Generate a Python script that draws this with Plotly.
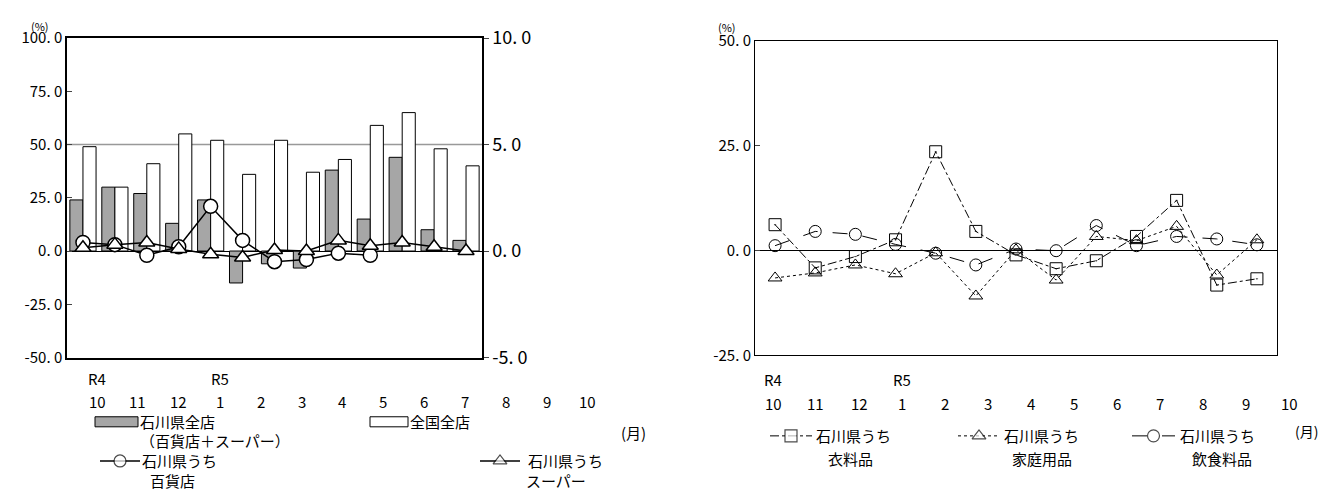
import plotly.graph_objects as go

months = ["10", "11", "12", "1", "2", "3", "4", "5", "6", "7", "8", "9", "10"]
era = ["R4", "", "", "R5", "", "", "", "", "", "", "", "", ""]
cats = [f"c{i}" for i in range(13)]

ishikawa_all = [24, 30, 27, 13, 24, -15, -6, -8, 38, 15, 44, 10, 5]
national_all = [49, 30, 41, 55, 52, 36, 52, 37, 43, 59, 65, 48, 40]
dept_store = [0.4, 0.3, -0.2, 0.2, 2.1, 0.5, -0.5, -0.4, -0.1, -0.2, None, None, None]
supermarket = [0.15, 0.3, 0.4, 0.1, -0.15, -0.3, 0.05, 0.0, 0.5, 0.25, 0.4, 0.2, 0.0]

clothing = [6.2, -4.1, -1.4, 2.6, 23.6, 4.6, -1.0, -4.3, -2.4, 3.4, 12.0, -8.2, -6.7]
household = [-6.5, -5.3, -3.4, -5.5, -0.5, -10.8, 0.2, -7.0, 3.4, 2.4, 5.8, -5.8, 2.6]
food = [1.2, 4.6, 3.9, 1.5, -0.6, -3.4, 0.4, 0.0, 6.0, 1.2, 3.4, 2.8, 1.4]

W, H = 1329, 493
FONT = "Noto Sans CJK JP"
fig = go.Figure()

def fx(x):
    return x - 8

def fy(y):
    return (y - 22) / 0.943

def px(x):
    return fx(x) / W

def py(y):
    return 1 - fy(y) / H

fig.add_bar(x=cats, y=ishikawa_all, marker=dict(color="#a6a6a6", line=dict(color="black", width=1)), xaxis="x", yaxis="y")
fig.add_bar(x=cats, y=national_all, marker=dict(color="white", line=dict(color="black", width=1)), xaxis="x", yaxis="y")
mk = dict(color="white", size=14, line=dict(color="black", width=1.5))
fig.add_scatter(x=cats, y=dept_store, mode="lines+markers", line=dict(color="black", width=1.5),
                marker=dict(symbol="circle", **mk), xaxis="x", yaxis="y2")
fig.add_scatter(x=cats, y=supermarket, mode="lines+markers", line=dict(color="black", width=1.5),
                marker=dict(symbol="triangle-up", **mk), xaxis="x", yaxis="y2")

mk2 = dict(color="rgba(255,255,255,0)", size=12, line=dict(color="black", width=1))
fig.add_scatter(x=cats, y=clothing, mode="lines+markers", line=dict(color="black", width=1, dash="dashdot"),
                marker=dict(symbol="square-dot", **mk2), xaxis="x2", yaxis="y3")
fig.add_scatter(x=cats, y=household, mode="lines+markers", line=dict(color="black", width=1, dash="dot"),
                marker=dict(symbol="triangle-up", **mk2), xaxis="x2", yaxis="y3")
fig.add_scatter(x=cats, y=food, mode="lines+markers", line=dict(color="black", width=1, dash="longdash"),
                marker=dict(symbol="circle", **mk2), xaxis="x2", yaxis="y3")

def leg(x0, x1, y, sym, dash, w=1.5):
    fig.add_scatter(x=[fx(x0), fx((x0 + x1) / 2), fx(x1)], y=[fy(y)] * 3, mode="lines+markers",
                    line=dict(color="black", width=w, dash=dash),
                    marker=dict(symbol=sym, size=[0, 12, 0], color="white", line=dict(color="black", width=1.2)),
                    xaxis="x3", yaxis="y4")

leg(100, 140, 458, "circle", "solid")
leg(480, 520, 458, "triangle-up", "solid")
leg(770, 812, 433, "square", "dashdot", 1)
leg(958, 1000, 433, "triangle-up", "dot", 1)
leg(1132, 1175, 433, "circle", "longdash", 1)

TF = dict(size=15)
fig.update_layout(
    width=W, height=H, margin=dict(l=0, r=0, t=0, b=0),
    paper_bgcolor="white", plot_bgcolor="rgba(0,0,0,0)", showlegend=False,
    barmode="group", bargap=0.18, bargroupgap=0,
    font=dict(family=FONT, size=15, color="black"),
    xaxis=dict(domain=[px(67), px(482)], showticklabels=False, ticks="", showline=True, linecolor="black", mirror=True,
               linewidth=1.5, range=[-0.5, 12.5]),
    yaxis=dict(domain=[py(355), py(37)], range=[-50, 100], tickvals=[-50, -25, 0, 25, 50, 75, 100],
               ticktext=["-50. 0", "-25. 0", "0. 0", "25. 0", "50. 0", "75. 0", "100. 0"],
               ticks="inside", ticklen=5, showline=True, linecolor="black", linewidth=1.5, mirror=False,
               showgrid=False, zeroline=True, zerolinecolor="black", zerolinewidth=1, tickfont=TF),
    yaxis2=dict(overlaying="y", anchor="x", side="right", range=[-5, 10], tickvals=[-5, 0, 5, 10],
                ticktext=["-5. 0", "0. 0", "5. 0", "10. 0"], ticks="outside", ticklen=5,
                showline=True, linecolor="black", linewidth=1.5, showgrid=False, zeroline=False,
                tickfont=dict(size=18)),
    xaxis2=dict(domain=[px(755), px(1277)], showticklabels=False, ticks="", showline=True, linecolor="black",
                mirror=True, range=[-0.5, 12.5], anchor="y3"),
    yaxis3=dict(domain=[py(353), py(40)], anchor="x2", range=[-25, 50], tickvals=[-25, 0, 25, 50],
                ticktext=["-25. 0", "0. 0", "25. 0", "50. 0"], ticks="inside", ticklen=5,
                showline=True, linecolor="black", mirror=True, showgrid=False,
                zeroline=True, zerolinecolor="black", zerolinewidth=1, tickfont=TF),
    xaxis3=dict(domain=[0, 1], range=[0, W], visible=False, anchor="y4"),
    yaxis4=dict(domain=[0, 1], range=[H, 0], visible=False, anchor="x3"),
)
fig.add_shape(type="line", xref="x", yref="y", x0=-0.5, x1=12.5, y0=50, y1=50, line=dict(color="#999", width=1.5), layer="below")

ann = []
def t(x, y, s, xa="left", size=15):
    ann.append(dict(x=px(x), y=py(y), xref="paper", yref="paper", text=s, showarrow=False,
                    xanchor=xa, yanchor="middle", font=dict(size=size)))

for i, m in enumerate(months):
    xl = 97 + 40.9 * i
    xr = 773 + 43 * i
    t(xl, 399, m, "center")
    t(xr, 401, m, "center")
    if era[i]:
        t(xl, 376, era[i], "center")
        t(xr, 377, era[i], "center")
t(633, 430, "(月)", "center")
t(1306, 428, "(月)", "center", 14)
t(40, 25, "(%)", "center", 11)
t(727, 26, "(%)", "center", 11)

t(138, 419, "石川県全店")
t(138, 438, "（百貨店＋スーパー）")
t(408, 419, "全国全店")
t(140, 458, "石川県うち")
t(148, 477, "百貨店")
t(526, 458, "石川県うち")
t(524, 477, "スーパー")
t(814, 433, "石川県うち")
t(826, 456, "衣料品")
t(1002, 433, "石川県うち")
t(1010, 456, "家庭用品")
t(1178, 433, "石川県うち")
t(1190, 456, "飲食料品")
fig.update_layout(annotations=ann)
fig.add_shape(type="rect", xref="paper", yref="paper", x0=px(95), x1=px(138), y0=py(424), y1=py(414),
              fillcolor="#a6a6a6", line=dict(color="black", width=1))
fig.add_shape(type="rect", xref="paper", yref="paper", x0=px(370), x1=px(408), y0=py(424), y1=py(414),
              fillcolor="white", line=dict(color="black", width=1))

fig.write_html("out.html")
